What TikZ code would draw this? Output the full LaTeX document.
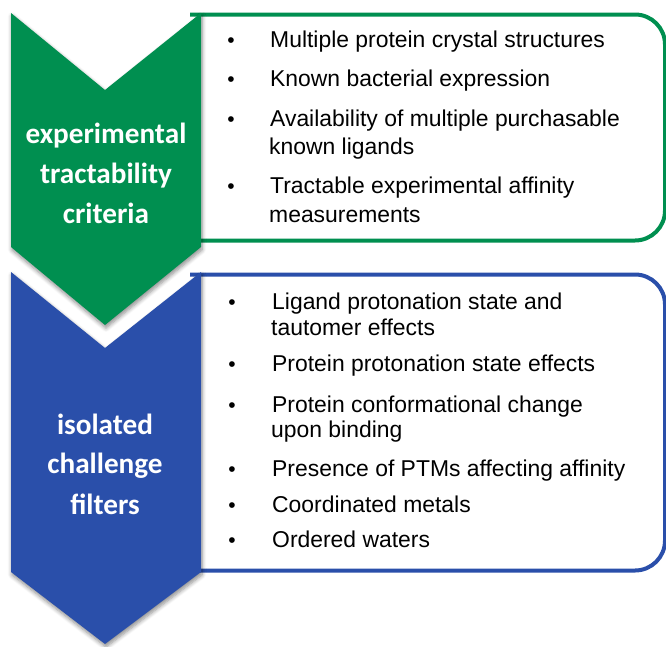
\documentclass[tikz,border=0pt]{standalone}
\usepackage{fontspec}
\setmainfont{Liberation Sans}
\newfontfamily\chevfont{Carlito}
\usetikzlibrary{shadows.blur}
\definecolor{critgreen}{RGB}{0,143,80}
\definecolor{filtblue}{RGB}{42,79,170}
\tikzset{
  chevronshape/.style={blur shadow={shadow xshift=1pt, shadow yshift=-3pt, shadow blur steps=6, shadow opacity=45, shadow blur radius=4pt}},
  listbox/.style={line width=4pt, rounded corners=30pt},
  chevlabel/.style={anchor=base, text=white, inner sep=0pt, font=\chevfont\bfseries\fontsize{29.2}{34}\selectfont},
  bulletmark/.style={anchor=base, inner sep=0pt, font=\fontsize{21}{27}\selectfont},
  itemline/.style={anchor=base west, inner sep=0pt, font=\fontsize{22.9}{27}\selectfont},
}
\begin{document}
\begin{tikzpicture}[x={(1pt,0)}, y={(0,-1pt)}]
\useasboundingbox (0,0) rectangle (666,646);
% boxes
\draw[listbox, draw=critgreen] (190,14.5) -- (665,14.5) -- (665,240.5) -- (190,240.5);
\draw[listbox, draw=filtblue] (190,274.5) -- (665,274.5) -- (665,570.5) -- (190,570.5);
% chevrons
\fill[critgreen, chevronshape] (11,13) -- (105,90) -- (201,13) -- (201,247) -- (105,325) -- (11,247) -- cycle;
\fill[filtblue, chevronshape] (11,272) -- (105,348) -- (201,272) -- (201,572) -- (105,644) -- (11,572) -- cycle;
% chevron labels
\node[chevlabel] (g1) at (106,143) {experimental};
\node[chevlabel] (g2) at (106,183) {tractability};
\node[chevlabel] (g3) at (106,223) {criteria};
\node[chevlabel] (b1) at (105,434) {isolated};
\node[chevlabel] (b2) at (105,473) {challenge};
\node[chevlabel] (b3) at (105,514) {filters};
% green list
\node[bulletmark] (gb1) at (231,47) {\textbullet};
\node[itemline] (gt1) at (270,47) {Multiple protein crystal structures};
\node[bulletmark] (gb2) at (231,86) {\textbullet};
\node[itemline] (gt2) at (270,86) {Known bacterial expression};
\node[bulletmark] (gb3) at (231,126) {\textbullet};
\node[itemline] (gt3) at (270,126) {Availability of multiple purchasable};
\node[itemline] (gt3b) at (269,154) {known ligands};
\node[bulletmark] (gb4) at (231,193) {\textbullet};
\node[itemline] (gt4) at (270,193) {Tractable experimental affinity};
\node[itemline] (gt4b) at (269,222) {measurements};
% blue list
\node[bulletmark] (bb1) at (232,309) {\textbullet};
\node[itemline] (bt1) at (272,309) {Ligand protonation state and};
\node[itemline] (bt1b) at (271,335) {tautomer effects};
\node[bulletmark] (bb2) at (232,371) {\textbullet};
\node[itemline] (bt2) at (272,371) {Protein protonation state effects};
\node[bulletmark] (bb3) at (232,412) {\textbullet};
\node[itemline] (bt3) at (272,412) {Protein conformational change};
\node[itemline] (bt3b) at (271,437) {upon binding};
\node[bulletmark] (bb4) at (232,476) {\textbullet};
\node[itemline] (bt4) at (272,476) {Presence of PTMs affecting affinity};
\node[bulletmark] (bb5) at (232,512) {\textbullet};
\node[itemline] (bt5) at (272,512) {Coordinated metals};
\node[bulletmark] (bb6) at (232,547) {\textbullet};
\node[itemline] (bt6) at (272,547) {Ordered waters};
\end{tikzpicture}
\end{document}
